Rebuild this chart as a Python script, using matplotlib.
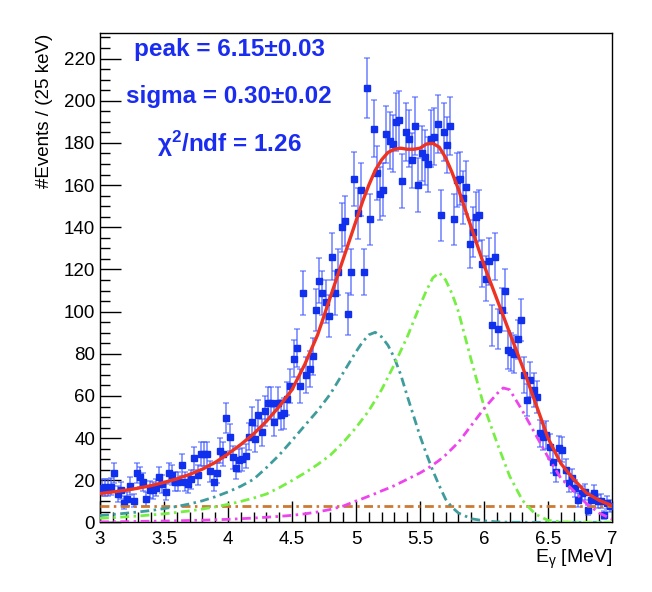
import matplotlib

matplotlib.use("Agg")

import matplotlib.pyplot as plt
from matplotlib.ticker import MultipleLocator
import numpy as np

plt.rcParams["font.family"] = ["Liberation Sans", "DejaVu Sans"]
plt.rcParams["mathtext.fontset"] = "custom"
plt.rcParams["mathtext.rm"] = "Liberation Sans"
plt.rcParams["mathtext.it"] = "Liberation Sans:italic"
plt.rcParams["mathtext.bf"] = "Liberation Sans:bold"

# histogram: 160 bins of 25 keV from 3 to 7 MeV (counts)
BIN_LO, BIN_HI, N_BINS = 3.0, 7.0, 160
counts = [
    16.4, 16.7, 16.4, 17.0, 23.4, 13.6, 15.2, 9.3, 11.2, 17.4,
    10.4, 23.4, 21.5, 19.3, 11.2, 15.6, 15.2, 16.4, 21.5, 18.3,
    14.4, 23.4, 22.7, 19.4, 19.4, 27.3, 19.4, 18.3, 20.4, 30.5,
    22.6, 32.5, 32.5, 32.5, 24.3, 19.4, 23.4, 34.1, 32.5, 49.6,
    40.5, 30.9, 25.7, 29.6, 29.9, 31.4, 40.7, 47.8, 39.6, 50.8,
    42.7, 52.8, 56.8, 56.8, 47.8, 56.8, 50.8, 51.7, 58.8, 64.7,
    77.7, 82.8, 64.7, 108.9, 70.0, 72.7, 78.8, 100.7, 114.6, 108.9,
    104.7, 97.9, 126.0, 108.9, 118.9, 139.9, 143.1, 98.8, 118.9, 163.0,
    146.6, 157.9, 118.9, 206.1, 143.8, 186.8, 165.8, 156.0, 157.9, 184.0,
    181.0, 179.7, 190.0, 190.8, 162.0, 185.2, 181.9, 171.8, 187.9, 160.0,
    175.0, 173.1, 169.9, 181.9, 182.9, 189.2, 145.7, 185.2, 178.9, 187.9,
    143.7, 162.3, 163.1, 154.1, 158.9, 132.0, 137.8, 144.9, 145.7, 122.8,
    115.7, 123.9, 93.6, 126.0, 91.7, 101.0, 109.9, 81.8, 81.0, 79.9,
    86.8, 96.0, 69.9, 58.0, 67.8, 62.8, 59.6, 42.3, 40.7, 41.5,
    35.9, 28.8, 24.1, 35.1, 34.5, 24.9, 18.6, 20.9, 16.2, 10.7,
    13.8, 14.6, 5.9, 10.7, 14.0, 10.0, 10.2, 3.6, 9.4, 8.0,
]

# fit curves
curve_e = [3.0, 3.1, 3.2, 3.3, 3.4, 3.5, 3.6, 3.7, 3.8, 3.9,
           4.0, 4.1, 4.2, 4.3, 4.4, 4.5, 4.6, 4.7, 4.8, 4.9,
           5.0, 5.05, 5.1, 5.15, 5.2, 5.25, 5.3, 5.35, 5.4, 5.45,
           5.5, 5.55, 5.6, 5.65, 5.7, 5.75, 5.8, 5.9, 6.0, 6.1,
           6.15, 6.2, 6.3, 6.4, 6.5, 6.6, 6.7, 6.8, 6.9, 7.0]
total_fit = [13.7, 14.5, 15.3, 16.3, 17.5, 19.0, 20.7, 22.8, 25.3, 28.5,
             32.5, 37.0, 42.0, 48.0, 55.0, 63.0, 75.0, 89.0, 107.0, 125.0,
             143.0, 152.0, 160.0, 167.0, 172.0, 175.5, 177.0, 177.5, 177.0, 177.0,
             177.5, 179.5, 179.8, 178.0, 173.0, 166.0, 158.0, 140.0, 122.0, 106.0,
             98.0, 90.0, 74.0, 57.0, 40.0, 28.0, 20.5, 14.0, 10.5, 8.0]
comp_low = [3.3, 3.8, 4.4, 5.0, 5.7, 6.6, 7.6, 8.8, 10.3, 12.2,
            14.5, 17.2, 20.5, 26.0, 32.0, 38.9, 46.0, 53.0, 61.0, 71.0,
            81.0, 85.5, 89.0, 90.2, 88.0, 84.0, 78.0, 70.0, 60.0, 50.5,
            41.0, 32.5, 24.6, 17.5, 11.0, 7.2, 4.5, 1.8, 0.8, 0.3,
            0.2, 0.1, 0.1, 0.1, 0.1, 0.1, 0.1, 0.1, 0.1, 0.1]
comp_mid = [2.0, 2.3, 2.7, 3.1, 3.6, 4.1, 4.8, 5.5, 6.4, 7.4,
            8.6, 10.0, 11.6, 13.5, 16.5, 19.9, 23.5, 27.5, 32.0, 38.0,
            45.0, 49.0, 53.0, 58.0, 63.0, 69.0, 75.0, 81.5, 88.0, 95.5,
            103.0, 110.0, 116.0, 118.5, 115.0, 108.5, 100.0, 77.0, 55.0, 38.0,
            30.0, 22.0, 10.5, 4.0, 1.0, 0.3, 0.1, 0.1, 0.1, 0.1]
comp_high = [0.3, 0.35, 0.4, 0.5, 0.6, 0.7, 0.8, 0.95, 1.1, 1.3,
             1.5, 1.8, 2.1, 2.5, 2.9, 3.4, 4.1, 5.0, 6.2, 7.8,
             10.2, 11.3, 12.5, 13.7, 15.0, 16.2, 17.5, 19.0, 20.5, 22.0,
             23.5, 25.3, 27.3, 29.5, 32.0, 35.0, 38.0, 46.0, 54.0, 61.0,
             63.8, 63.0, 53.0, 42.0, 31.0, 21.0, 15.0, 9.0, 4.5, 1.5]
background = [7.6] * len(curve_e)

stat_lines = ["peak = 6.15±0.03", "sigma = 0.30±0.02", "χ$^{\\mathbf{2}}$/ndf = 1.26"]

fig = plt.figure(figsize=(6.52, 5.92), dpi=100)
ax = fig.add_axes([0.1534, 0.1174, 0.7853, 0.8264])

edges = np.linspace(BIN_LO, BIN_HI, N_BINS + 1)
centers = 0.5 * (edges[:-1] + edges[1:])
y = np.array(counts)
yerr = np.sqrt(y)

ax.errorbar(centers, y, yerr=yerr, fmt="none", ecolor=(0.25, 0.35, 1.0, 0.65),
            elinewidth=1.3, capsize=2.2, capthick=1.1, zorder=2)
ax.plot(centers, y, "s", color="#1030ee", markersize=4.2, zorder=3)

dash = (0, (3.2, 1.6, 0.9, 1.6))
ax.plot(curve_e, background, color="#cc7a33", lw=2.0, linestyle=dash, zorder=4)
ax.plot(curve_e, comp_low, color="#3f9c9c", lw=2.0, linestyle=dash, zorder=4)
ax.plot(curve_e, comp_mid, color="#77ee44", lw=2.0, linestyle=dash, zorder=4)
ax.plot(curve_e, comp_high, color="#ee44ee", lw=2.0, linestyle=dash, zorder=4)
ax.plot(curve_e, total_fit, color="#ee3322", lw=2.4, zorder=5)

ax.set_xlim(BIN_LO, BIN_HI)
ax.set_ylim(0, 232)
ax.xaxis.set_major_locator(MultipleLocator(0.5))
ax.xaxis.set_minor_locator(MultipleLocator(0.1))
ax.yaxis.set_major_locator(MultipleLocator(20))
ax.yaxis.set_minor_locator(MultipleLocator(5))
ax.xaxis.set_major_formatter(plt.FuncFormatter(lambda v, _: f"{v:g}"))
ax.tick_params(which="both", direction="in", top=False, right=False, labelsize=13.5, width=1.0)
ax.tick_params(which="major", length=15)
ax.tick_params(which="minor", length=7.5)
ax.tick_params(axis="x", pad=6)
for s in ax.spines.values():
    s.set_linewidth(1.0)

ax.set_ylabel("#Events / (25 keV)", fontsize=13.5, loc="top", labelpad=8)
ax.set_xlabel("E$_{\\mathregular{\\gamma}}$ [MeV]", fontsize=14, loc="right", labelpad=0)

for i, line in enumerate(stat_lines):
    ax.text(0.252, 0.966 - i * 0.096, line, transform=ax.transAxes, ha="center", va="center",
            fontsize=17.5, fontweight="bold", color="#1a2cf0")

fig.savefig("out.png", dpi=100)
